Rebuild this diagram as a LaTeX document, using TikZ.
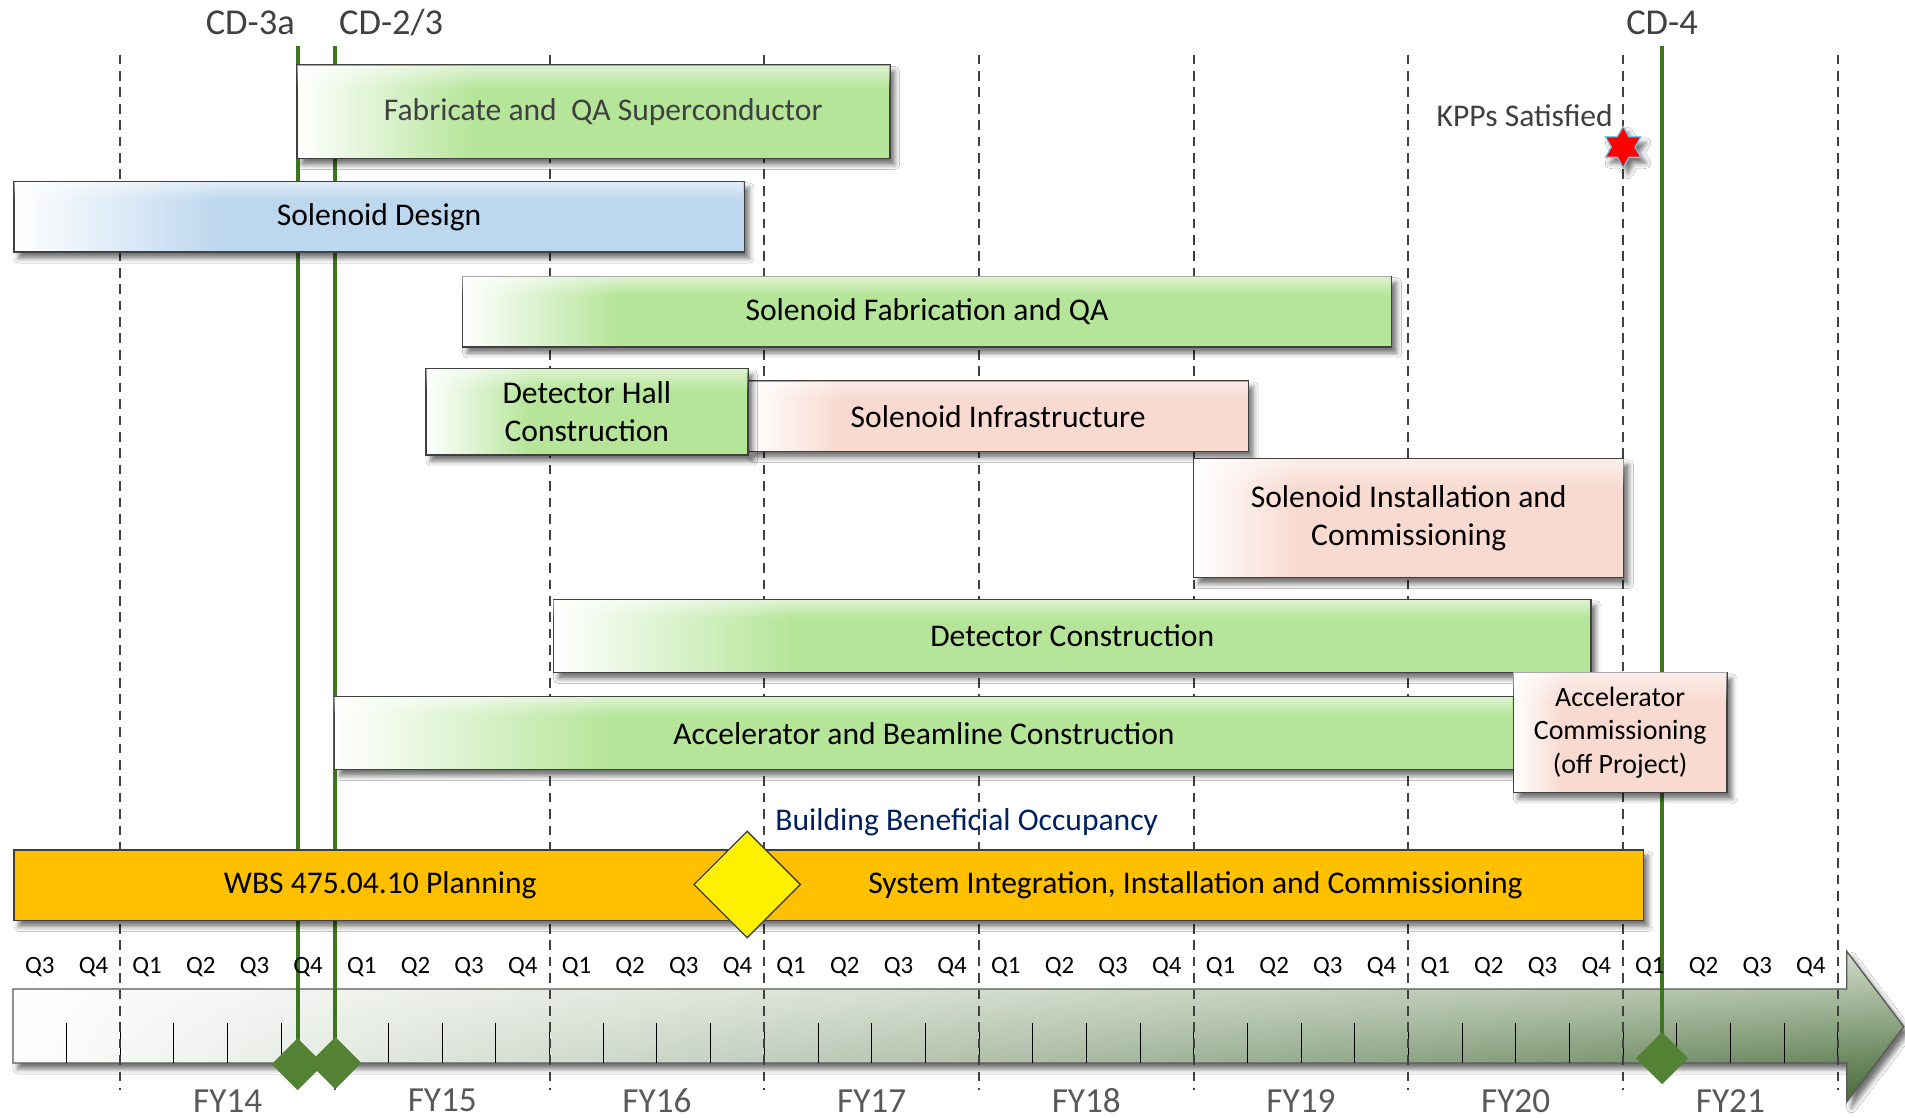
\documentclass[tikz,border=0pt]{standalone}
\usepackage{fontspec}
\setmainfont{Carlito}
\usetikzlibrary{shapes.geometric,shadows.blur,fadings}

\definecolor{barGreen}{RGB}{181,229,153}
\definecolor{barBlue}{RGB}{189,215,238}
\definecolor{barPink}{RGB}{248,218,208}
\definecolor{barOrange}{RGB}{255,192,0}
\definecolor{msYellow}{RGB}{255,240,0}
\definecolor{edgeGray}{RGB}{64,64,64}
\definecolor{cdGreen}{RGB}{62,118,32}
\definecolor{msGreen}{RGB}{84,130,53}
\definecolor{navyText}{RGB}{0,32,96}
\definecolor{labelGray}{RGB}{64,64,64}
\definecolor{fyGray}{RGB}{89,89,89}
\definecolor{tlTop}{RGB}{208,219,200}
\definecolor{tlBot}{RGB}{64,102,50}
\definecolor{starEdge}{RGB}{120,200,230}

% white-to-colour fill of each task bar; the third argument is where the
% full colour is reached (25bp = left edge, 75bp = right edge)
\newcommand\barshade[3]{%
  \pgfdeclarehorizontalshading{#1}{100bp}{color(0bp)=(white); color(25bp)=(white);
    color(#3bp)=(#2); color(100bp)=(#2)}}
\barshade{fabshade}{barGreen}{39.9}
\barshade{sdesshade}{barBlue}{39.1}
\barshade{sfabshade}{barGreen}{33.5}
\barshade{sinfrashade}{barPink}{34.1}
\barshade{dhallshade}{barGreen}{41.2}
\barshade{sinstshade}{barPink}{37.0}
\barshade{dconshade}{barGreen}{36.5}
\barshade{accbshade}{barGreen}{36.8}
\barshade{acommshade}{barPink}{36.4}

% light band along the top edge of the bars
\pgfdeclareverticalshading{glossmask}{100bp}{color(0bp)=(black); color(62bp)=(black);
  color(75bp)=(black!45); color(100bp)=(black!45)}
\tikzfading[name=glossfade, shading=glossmask]
% white wash over the left part of the time axis
\tikzfading[name=tlfade, left color=transparent!0, middle color=transparent!70, right color=transparent!100]

\tikzset{
  softshadow/.style={blur shadow={shadow xshift=4pt, shadow yshift=-5pt,
      shadow blur radius=4pt, shadow opacity=55}},
  bar/.style={draw=edgeGray, line width=1.1pt, inner sep=0pt, anchor=north west,
      align=center, font=\fontsize{26}{31}\selectfont, softshadow},
  taskbar/.style={bar, shading=#1, postaction={fill=white, path fading=glossfade}},
  bartext/.style={font=\fontsize{26}{31}\selectfont, text=black},
  qlab/.style={font=\fontsize{20.5}{24}\selectfont, text=black, inner sep=0pt},
  fylab/.style={font=\fontsize{29}{34}\selectfont, text=fyGray, inner sep=0pt},
  cdlab/.style={font=\fontsize{30}{36}\selectfont, text=labelGray, inner sep=0pt},
  yearline/.style={draw=edgeGray, line width=1.5pt, dash pattern=on 8pt off 5.5pt},
  tick/.style={draw=black, line width=0.8pt},
  cdline/.style={draw=cdGreen, line width=3.2pt},
  msdia/.style={diamond, minimum size=43pt, inner sep=0pt, fill=msGreen},
  tloutline/.style={draw=fyGray, line width=1.1pt},
}

\begin{document}
\begin{tikzpicture}[x=1pt, y=-1pt]
\useasboundingbox (0,0) rectangle (1568,920);
\fill[white] (0,0) rectangle (1568,920);

% ---- time axis arrow ----
\coordinate (tA) at (10.65,814);
\coordinate (tB) at (1520,814);
\coordinate (tC) at (1520,783);
\coordinate (tD) at (1567,845);
\coordinate (tE) at (1520,907);
\coordinate (tF) at (1520,875);
\coordinate (tG) at (10.65,875);
\path[softshadow, top color=tlTop, bottom color=tlBot]
  (tA) -- (tB) -- (tC) -- (tD) -- (tE) -- (tF) -- (tG) -- cycle;
\fill[white, path fading=tlfade]
  (tA) -- (tB) -- (tC) -- (tD) -- (tE) -- (tF) -- (tG) -- cycle;
\draw[tloutline]
  (tA) -- (tB) -- (tC) -- (tD) -- (tE) -- (tF) -- (tG) -- cycle;

% quarter ticks
\foreach \i in {1,...,34}
  \draw[tick] ({10.65+44.175*\i},842) -- ({10.65+44.175*\i},875);

% fiscal year boundaries
\foreach \k in {0,...,8}
  \draw[yearline] ({99+176.7*\k},45) -- ({99+176.7*\k},897);

% ---- CD milestone lines ----
\coordinate (cd3atop) at (245,38);
\coordinate (cd3abase) at (245,876);
\coordinate (cd23top) at (276,38);
\coordinate (cd23base) at (276,875);
\coordinate (cd4top) at (1368,38);
\coordinate (cd4base) at (1368,871);
\draw[cdline] (cd3atop) -- (cd3abase);
\draw[cdline] (cd23top) -- (cd23base);
\draw[cdline] (cd4top) -- (cd4base);

% ---- task bars ----
\node[taskbar=fabshade, minimum width=488pt, minimum height=77pt, text=labelGray] (fab) at (244,53)
  {\hspace*{16pt}Fabricate and\ \ QA Superconductor};
\node[taskbar=sdesshade, minimum width=601pt, minimum height=58pt] (sdes) at (11,149) {Solenoid Design};
\node[taskbar=sfabshade, minimum width=765pt, minimum height=58pt] (sfab) at (380,227) {Solenoid Fabrication and QA};
\node[taskbar=sinfrashade, minimum width=412pt, minimum height=58pt] (sinfra) at (615,313) {Solenoid Infrastructure};
\node[taskbar=dhallshade, minimum width=265pt, minimum height=71pt] (dhall) at (350,303) {Detector Hall\\Construction};
\node[taskbar=sinstshade, minimum width=354pt, minimum height=98pt] (sinst) at (982,377)
  {Solenoid Installation and\\Commissioning};
\node[taskbar=dconshade, minimum width=854pt, minimum height=60pt] (dcon) at (455,493) {Detector Construction};
\node[taskbar=accbshade, minimum width=970pt, minimum height=60pt] (accb) at (275,573)
  {Accelerator and Beamline Construction};
\node[taskbar=acommshade, minimum width=176pt, minimum height=99pt, font=\fontsize{23}{27.5}\selectfont] (acomm) at (1245,553)
  {Accelerator\\Commissioning\\(off Project)};

% ---- planning / integration bar ----
\node[bar, fill=barOrange, minimum width=1341pt, minimum height=58pt] (wbs) at (11,699) {};
\node[bartext] (wbstxt) at (313,729) {WBS 475.04.10 Planning};
\node[bartext] (sysint) at (984,729) {System Integration, Installation and Commissioning};
\node[diamond, minimum size=88pt, inner sep=0pt, fill=msYellow, draw=edgeGray, line width=1.1pt] (bbo) at (615,728) {};
\node[font=\fontsize{26}{31}\selectfont, text=navyText, anchor=west, inner sep=0pt] (bbotxt) at (638,677)
  {Building Beneficial Occupancy};

% ---- milestone diamonds on the axis ----
\node[msdia] (cd3a) at (cd3abase) {};
\node[msdia] (cd23) at (cd23base) {};
\node[msdia] (cd4) at (cd4base) {};

% ---- milestone labels ----
\node[cdlab] (cd3alab) at (206,19) {CD-3a};
\node[cdlab] (cd23lab) at (322,19) {CD-2/3};
\node[cdlab] (cd4lab) at (1368,19) {CD-4};
\node[font=\fontsize{26}{31}\selectfont, text=labelGray, inner sep=0pt] (kpptxt) at (1255,95) {KPPs Satisfied};
\node[star, star points=6, star point ratio=1.75, minimum size=34pt, inner sep=0pt,
      fill=red, draw=starEdge, line width=1pt, softshadow] (kpp) at (1336,121) {};

% ---- quarter and year labels ----
\foreach \lab [count=\i from 0] in {Q3,Q4,Q1,Q2,Q3,Q4,Q1,Q2,Q3,Q4,Q1,Q2,Q3,Q4,Q1,Q2,Q3,Q4,
    Q1,Q2,Q3,Q4,Q1,Q2,Q3,Q4,Q1,Q2,Q3,Q4,Q1,Q2,Q3,Q4}
  \node[qlab] (q\i) at ({10.65+44.175*(\i+0.5)},796) {\lab};
\foreach \y [count=\k from 0] in {14,...,21}
  \node[fylab] (fy\y) at ({99+176.7*(\k+0.5)},906) {FY\y};
\end{tikzpicture}
\end{document}
